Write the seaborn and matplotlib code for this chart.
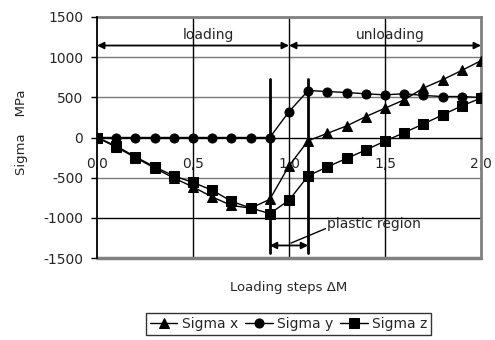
import matplotlib
matplotlib.use("Agg")
import matplotlib.pyplot as plt
import seaborn as sns
import numpy as np
import pandas as pd

steps = [0.0, 0.1, 0.2, 0.3, 0.4, 0.5, 0.6, 0.7, 0.8, 0.9, 1.0,
         1.1, 1.2, 1.3, 1.4, 1.5, 1.6, 1.7, 1.8, 1.9, 2.0]
sigma_x = [0, -120, -250, -380, -505, -615, -740, -845, -880, -770, -352,
           -40, 52, 144, 260, 365, 469, 615, 719, 835, 956]
sigma_y = [0, 0, 0, 0, 0, 0, 0, 0, 0, 0, 322,
           585, 572, 560, 544, 531, 545, 523, 510, 510, 498]
sigma_z = [0, -105, -240, -365, -477, -560, -656, -794, -877, -948, -781,
           -477, -365, -260, -156, -44, 60, 169, 281, 394, 490]
series_names = ["Sigma x", "Sigma y", "Sigma z"]
x_ticks = [0.0, 0.5, 1.0, 1.5, 2.0]
x_tick_labels = ["0,0", "0,5", "1,0", "1,5", "2,0"]
y_ticks = [-1500, -1000, -500, 0, 500, 1000, 1500]

sns.set_style("white")
plt.rcParams["font.family"] = ["DejaVu Sans"]

fig = plt.figure(figsize=(4.95, 3.4), dpi=100)
ax = fig.add_axes([97/495, 1-258/340, (481-97)/495, (258-17)/340])

df = pd.DataFrame({"step": steps, "Sigma x": sigma_x, "Sigma y": sigma_y, "Sigma z": sigma_z})
markers = {"Sigma x": "^", "Sigma y": "o", "Sigma z": "s"}
for name in series_names:
    sns.lineplot(data=df, x="step", y=name, ax=ax, color="black", lw=1,
                 marker=markers[name], markersize=6.5, markeredgecolor="black",
                 label=name, legend=False, zorder=5)

ax.set_xlim(0, 2.0)
ax.set_ylim(-1500, 1500)

# grid
for yv in [500, 1000, -500]:
    ax.axhline(yv, color="#7a7a7a", lw=1, zorder=1)
ax.axhline(-1000, color="black", lw=1, zorder=1)
for xv in [0.5, 1.0, 1.5]:
    ax.axvline(xv, color="black", lw=1, zorder=1)

# spines / frame
ax.spines["bottom"].set_position(("data", 0))
ax.spines["bottom"].set_color("black")
ax.spines["bottom"].set_linewidth(1)
ax.spines["top"].set_color("#808080")
ax.spines["top"].set_linewidth(2)
ax.spines["right"].set_color("#808080")
ax.spines["right"].set_linewidth(2)
ax.axhline(-1500, color="#808080", lw=2.5, clip_on=False, zorder=3)
ax.spines["left"].set_color("black")
ax.spines["left"].set_linewidth(1.3)
ax.spines["left"].set_zorder(4)

ax.set_xticks(x_ticks)
ax.set_xticklabels(x_tick_labels, fontsize=10)
ax.tick_params(axis="x", length=0, pad=14)
ax.set_yticks(y_ticks)
ax.set_yticklabels([str(v) for v in y_ticks], fontsize=10)
ax.tick_params(axis="y", direction="out", length=4, width=1, color="black", pad=6, left=True)

ax.set_xlabel("Loading steps \u0394M", fontsize=9.5)
ax.xaxis.set_label_coords(0.5, -0.095)
ax.set_ylabel("Sigma    MPa", fontsize=9.5)
ax.yaxis.set_label_coords(-0.18, 0.52)

# annotations
arrow = dict(arrowstyle="<|-|>", color="black", lw=1.3, mutation_scale=10, shrinkA=0, shrinkB=0)
ax.annotate("", xy=(0.0, 1145), xytext=(1.0, 1145), arrowprops=arrow)
ax.annotate("", xy=(1.0, 1145), xytext=(2.0, 1145), arrowprops=arrow)
ax.text(0.58, 1270, "loading", ha="center", va="center", fontsize=10)
ax.text(1.53, 1270, "unloading", ha="center", va="center", fontsize=10)

ax.plot([0.9, 0.9], [730, -1435], color="black", lw=2, zorder=6)
ax.plot([1.1, 1.1], [730, -1435], color="black", lw=2, zorder=6)
ax.annotate("", xy=(0.9, -1344), xytext=(1.1, -1344), arrowprops=arrow)
ax.plot([1.01, 1.19], [-1315, -1135], color="black", lw=1)
ax.text(1.2, -1081, "plastic region", ha="left", va="center", fontsize=10)

handles, labels = ax.get_legend_handles_labels()
leg = fig.legend(handles, labels, loc="center", bbox_to_anchor=(288.5/495, 1-324/340),
                 ncol=3, frameon=True, fancybox=False, edgecolor="black", fontsize=10,
                 handlelength=2.0, handletextpad=0.3, columnspacing=0.5,
                 borderpad=0.3, borderaxespad=0)
leg.get_frame().set_linewidth(1)

fig.savefig("out.png", dpi=100)
